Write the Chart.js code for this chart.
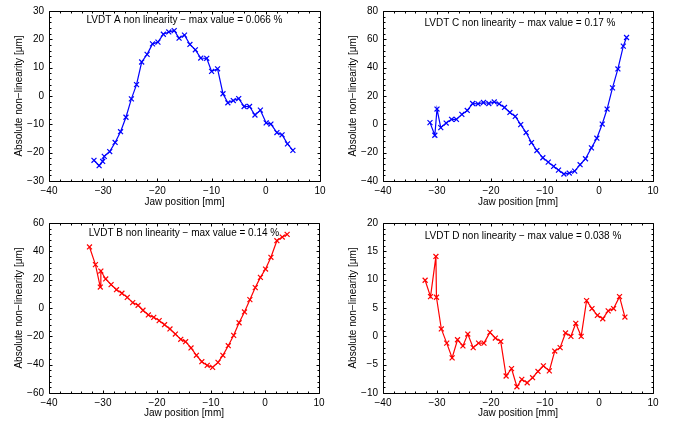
<!DOCTYPE html>
<html>
<head>
<meta charset="utf-8">
<script src="https://cdn.jsdelivr.net/npm/chart.js@4/dist/chart.umd.min.js"></script>
<style>
  body { margin: 0; background: #fff; }
  #wrap { position: relative; width: 674px; height: 423px; }
  .cell { position: absolute; }
</style>
</head>
<body>
<div id="wrap">
  <div class="cell" style="left:0;top:0"><canvas id="cA" width="337" height="211"></canvas></div>
  <div class="cell" style="left:337px;top:0"><canvas id="cC" width="337" height="211"></canvas></div>
  <div class="cell" style="left:0;top:211px"><canvas id="cB" width="337" height="212"></canvas></div>
  <div class="cell" style="left:337px;top:211px"><canvas id="cD" width="337" height="212"></canvas></div>
</div>
<script>
// LVDT A (blue, top left)
var xA = [-31.7, -30.75, -30.1, -29.8, -28.8, -27.8, -26.8, -25.8, -24.8, -23.85, -22.9, -21.9, -20.9, -19.9, -18.9, -17.9, -16.9, -16.0, -15.0, -14.0, -13.0, -12.0, -10.9, -10.0, -8.9, -7.9, -7.0, -6.0, -5.0, -4.0, -3.0, -2.0, -1.0, 0.07, 0.94, 2.05, 3.0, 4.0, 5.0];
var yA = [-22.7, -24.6, -23.1, -21.3, -19.6, -16.4, -12.6, -7.5, -1.0, 4.0, 12.0, 14.7, 18.4, 19.0, 21.8, 22.6, 23.1, 20.4, 21.5, 18.2, 16.3, 13.4, 13.3, 8.7, 9.6, 0.8, -2.4, -1.6, -0.9, -3.7, -3.7, -6.7, -5.0, -9.5, -9.9, -12.9, -13.7, -16.9, -19.2];

// LVDT C (blue, top right)
var xC = [-31.3, -30.4, -30.0, -29.3, -28.3, -27.3, -26.4, -25.4, -24.4, -23.4, -22.4, -21.4, -20.4, -19.4, -18.5, -17.5, -16.5, -15.5, -14.5, -13.5, -12.5, -11.5, -10.4, -9.4, -8.4, -7.5, -6.5, -5.5, -4.5, -3.5, -2.5, -1.4, -0.4, 0.6, 1.5, 2.5, 3.5, 4.5, 5.1];
var yC = [1.2, -7.7, 10.8, -2.3, 0.9, 3.5, 3.5, 7.0, 9.8, 14.7, 14.5, 15.4, 14.7, 15.8, 14.5, 11.9, 8.4, 5.6, -0.2, -5.8, -12.9, -18.5, -23.6, -26.7, -29.7, -32.3, -35.1, -34.4, -33.0, -28.5, -24.3, -16.6, -9.8, 0.2, 10.8, 25.7, 39.1, 55.2, 61.3];

// LVDT B (red, bottom left)
var xB = [-32.5, -31.4, -30.5, -30.4, -29.5, -28.5, -27.5, -26.5, -25.5, -24.5, -23.5, -22.6, -21.6, -20.6, -19.6, -18.6, -17.6, -16.6, -15.6, -14.7, -13.7, -12.7, -11.7, -10.7, -9.7, -8.7, -7.8, -6.8, -5.8, -4.8, -3.8, -2.8, -1.8, -0.85, 0.1, 1.1, 2.2, 3.2, 4.1];
var yB = [43.1, 30.6, 14.8, 26.1, 20.5, 16.5, 12.9, 10.4, 7.5, 3.8, 1.9, -1.6, -4.9, -6.6, -8.9, -11.8, -14.8, -18.4, -22.1, -23.8, -28.2, -33.4, -37.9, -40.5, -41.9, -38.4, -33.4, -26.6, -19.3, -10.4, -2.8, 5.9, 14.4, 21.6, 27.5, 35.8, 47.5, 50.1, 52.0];

// LVDT D (red, bottom right)
var xD = [-32.2, -31.2, -30.2, -30.1, -29.2, -28.2, -27.2, -26.2, -25.2, -24.3, -23.3, -22.3, -21.3, -20.2, -19.2, -18.2, -17.2, -16.2, -15.2, -14.3, -13.3, -12.3, -11.3, -10.3, -9.2, -8.2, -7.2, -6.2, -5.2, -4.3, -3.3, -2.3, -1.3, -0.3, 0.7, 1.7, 2.7, 3.8, 4.8];
var yD = [9.9, 7.0, 14.1, 6.9, 1.3, -1.2, -3.8, -0.6, -1.7, 0.4, -2.0, -1.2, -1.2, 0.7, -0.3, -0.9, -7.0, -5.7, -8.9, -7.6, -8.2, -7.3, -6.2, -5.2, -6.1, -2.6, -2.0, 0.6, 0.0, 2.3, 0.0, 6.3, 4.9, 3.7, 3.1, 4.5, 4.9, 7.0, 3.4];

var titles = {
  A: "LVDT A non linearity \u2212 max value = 0.066 %",
  B: "LVDT B non linearity \u2212 max value = 0.14 %",
  C: "LVDT C non linearity \u2212 max value = 0.17 %",
  D: "LVDT D non linearity \u2212 max value = 0.038 %"
};

var FONT = "'Liberation Sans', Arial, Helvetica, sans-serif";

function minus(v) {
  return v < 0 ? "\u2212" + Math.abs(v) : String(v);
}

// matlab style box with inward ticks + in-plot title
var boxPlugin = {
  id: "box",
  afterDraw: function (chart) {
    var ctx = chart.ctx;
    var a = chart.chartArea;
    var xs = chart.scales.x, ys = chart.scales.y;
    var o = chart.options.plugins.box;
    ctx.save();
    ctx.strokeStyle = "#000";
    ctx.lineWidth = 1;
    ctx.beginPath();
    var l = Math.round(a.left) + 0.5, r = Math.round(a.right) + 0.5;
    var t = Math.round(a.top) + 0.5, b = Math.round(a.bottom) + 0.5;
    ctx.rect(l, t, r - l, b - t);
    var i, v, p, len;
    var xStep = 10 / 5;
    for (i = 0; ; i++) {
      v = xs.min + i * xStep;
      if (v > xs.max + 1e-9) break;
      p = Math.round(xs.getPixelForValue(v)) + 0.5;
      len = (i % 5 === 0) ? 3 : 2;
      ctx.moveTo(p, b); ctx.lineTo(p, b - len);
      ctx.moveTo(p, t); ctx.lineTo(p, t + len);
    }
    var yStep = o.yStep / 5;
    for (i = 0; ; i++) {
      v = ys.min + i * yStep;
      if (v > ys.max + 1e-9) break;
      p = Math.round(ys.getPixelForValue(v)) + 0.5;
      len = (i % 5 === 0) ? 3 : 2;
      ctx.moveTo(l, p); ctx.lineTo(l + len, p);
      ctx.moveTo(r, p); ctx.lineTo(r - len, p);
    }
    ctx.stroke();
    ctx.fillStyle = "#000";
    ctx.font = "10px " + FONT;
    ctx.textAlign = "center";
    ctx.textBaseline = "middle";
    ctx.fillText(o.title, (a.left + a.right) / 2 + (o.dx || 0), a.top + o.dy);
    ctx.restore();
  }
};

function makeChart(id, xv, yv, color, yMin, yMax, yStep, lay) {
  var pts = xv.map(function (x, i) { return { x: x, y: yv[i] }; });
  return new Chart(document.getElementById(id), {
    type: "scatter",
    data: {
      datasets: [{
        data: pts,
        showLine: true,
        borderColor: color,
        backgroundColor: color,
        borderWidth: 1.2,
        pointStyle: "crossRot",
        pointRadius: 3.5,
        pointBorderWidth: 1.2,
        tension: 0
      }]
    },
    options: {
      responsive: false,
      animation: false,
      layout: { padding: { top: lay.top, right: lay.right, left: 0, bottom: 0 } },
      plugins: {
        legend: { display: false },
        tooltip: { enabled: false },
        box: { title: lay.title, yStep: yStep, dy: lay.dy, dx: lay.dx }
      },
      scales: {
        x: {
          type: "linear",
          min: -40, max: 10,
          afterFit: function (s) { s.height = lay.xH; },
          grid: { display: false, drawTicks: false },
          border: { display: false },
          ticks: { stepSize: 10, padding: 4, color: "#000", font: { family: FONT, size: 10 }, callback: minus, maxRotation: 0 },
          title: { display: true, text: "Jaw position [mm]", color: "#000", font: { family: FONT, size: 10 }, padding: { top: 0, bottom: lay.xTitlePad } }
        },
        y: {
          type: "linear",
          min: yMin, max: yMax,
          afterFit: function (s) { s.width = lay.yW; },
          grid: { display: false, drawTicks: false },
          border: { display: false },
          ticks: { stepSize: yStep, padding: 5, color: "#000", font: { family: FONT, size: 10 }, callback: minus },
          title: { display: true, text: "Absolute non\u2212linearity [\u03bcm]", color: "#000", font: { family: FONT, size: 10 }, padding: { top: lay.yTitlePad, bottom: 0 } }
        }
      }
    },
    plugins: [boxPlugin]
  });
}

makeChart("cA", xA, yA, "#0000ff", -30, 30, 10,
  { top: 10, right: 17, xH: 30, yW: 49, xTitlePad: 3, yTitlePad: 13, title: titles.A, dy: 9, dx: 0 });
makeChart("cC", xC, yC, "#0000ff", -40, 80, 20,
  { top: 10, right: 21, xH: 30, yW: 46, xTitlePad: 3, yTitlePad: 10, title: titles.C, dy: 12.5, dx: 2 });
makeChart("cB", xB, yB, "#ff0000", -60, 60, 20,
  { top: 12, right: 18, xH: 30, yW: 49, xTitlePad: 4, yTitlePad: 13, title: titles.B, dy: 10, dx: 0 });
makeChart("cD", xD, yD, "#ff0000", -10, 20, 5,
  { top: 12, right: 21, xH: 30, yW: 46, xTitlePad: 4, yTitlePad: 10, title: titles.D, dy: 13.5, dx: 5 });
</script>
</body>
</html>
